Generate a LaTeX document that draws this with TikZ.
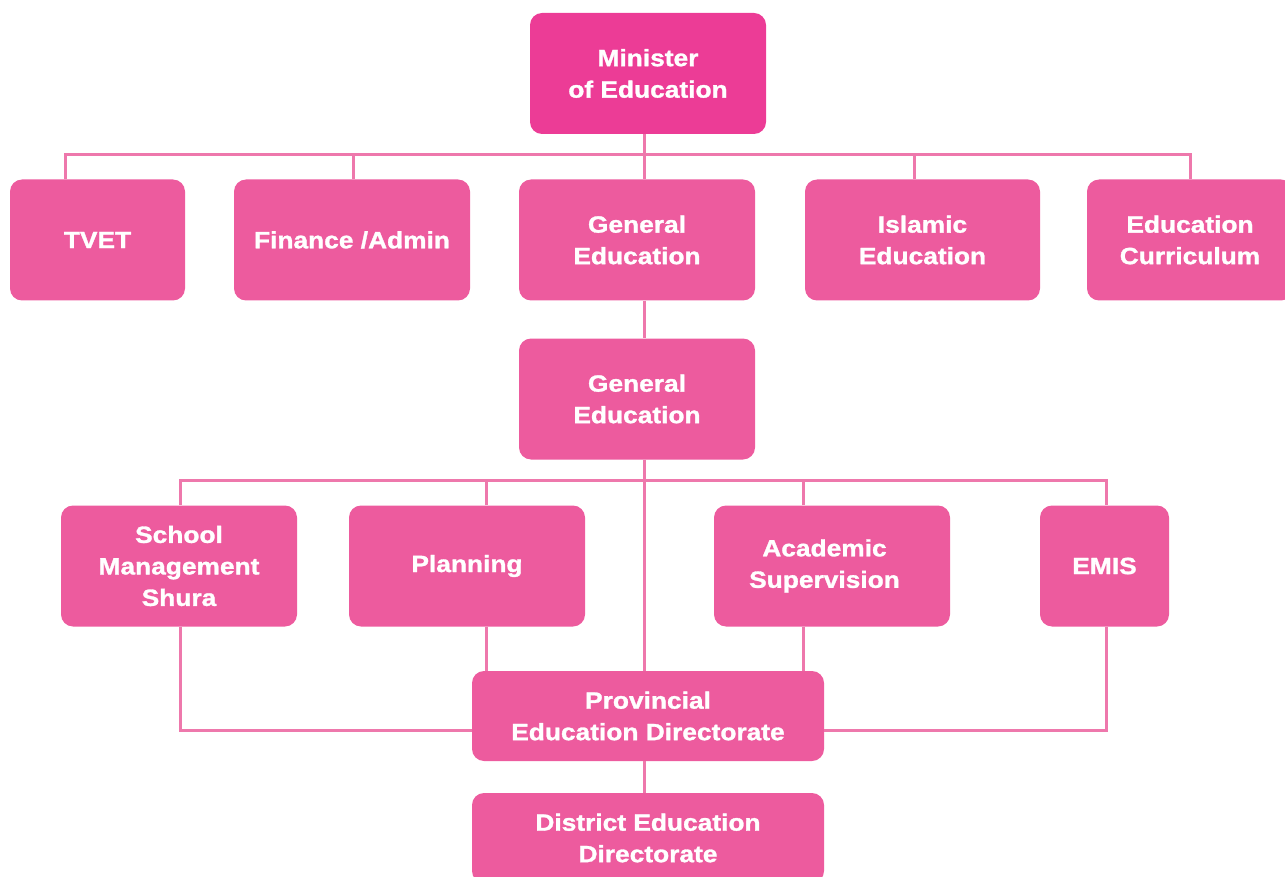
\documentclass[tikz,border=0pt]{standalone}
\usepackage{fontspec}
\setmainfont{Liberation Sans}[BoldFont={* Bold},BoldFeatures={FakeStretch=1.12,FakeBold=1.3}]
\definecolor{boxpink}{RGB}{237,91,158}
\definecolor{toppink}{RGB}{236,60,150}
\definecolor{linepink}{RGB}{238,120,172}
\tikzset{
  boxtext/.style={text=white, align=center,
    font=\fontsize{23.5}{31.5}\selectfont\bfseries},
  orgbox/.style={rectangle, rounded corners=12pt, fill=boxpink, boxtext,
    inner sep=0pt, minimum height=121pt},
  topbox/.style={orgbox, fill=toppink},
  conn/.style={draw=linepink, line width=3pt},
}
\begin{document}
\begin{tikzpicture}[x=1pt,y=-1pt]
\path[use as bounding box] (0,0) rectangle (1285,877);
\clip (0,0) rectangle (1285,877);
\coordinate (h1) at (0,155);
\coordinate (h2) at (0,480);
\node[topbox, minimum width=236pt] (min) at (648,73.5) {Minister\\of Education};
\node[orgbox, minimum width=175pt] (tvet) at (97.5,240) {TVET};
\node[orgbox, minimum width=236pt] (fin) at (352,240) {Finance /Admin};
\node[orgbox, minimum width=236pt] (gen1) at (637,240) {General\\Education};
\node[orgbox, minimum width=235pt] (isl) at (922.5,240) {Islamic\\Education};
\node[orgbox, minimum width=206pt] (curr) at (1190,240) {Education\\Curriculum};
\node[orgbox, minimum width=236pt] (gen2) at (637,399) {General\\Education};
\node[orgbox, minimum width=236pt] (school) at (179,566) {School\\Management\\Shura};
\node[orgbox, minimum width=236pt] (plan) at (467,566) {Planning};
\node[orgbox, minimum width=236pt,
  label={[boxtext, xshift=-7.5pt]center:Academic\\Supervision}] (acad) at (832,566) {};
\node[orgbox, minimum width=129pt] (emis) at (1104.5,566) {EMIS};
\node[orgbox, minimum width=352pt, minimum height=90pt] (prov) at (648,716) {Provincial\\Education Directorate};
\node[orgbox, minimum width=352pt, minimum height=90pt] (dist) at (648,838) {District Education\\Directorate};
% top level
\draw[conn] ([xshift=-4pt]min.south) -- ([xshift=7pt]gen1.north);
\draw[conn] ([xshift=-32.5pt]tvet.north) |- (curr.north |- h1) -- (curr.north);
\draw[conn] ([xshift=1pt]fin.north) -- ([xshift=1pt]fin.north |- h1);
\draw[conn] ([xshift=-8.5pt]isl.north) -- ([xshift=-8.5pt]isl.north |- h1);
% general education chain
\draw[conn] ([xshift=7pt]gen1.south) -- ([xshift=7pt]gen2.north);
\draw[conn] ([xshift=7pt]gen2.south) -- ([xshift=-4pt]prov.north);
% second bar
\draw[conn] ([xshift=1pt]school.north) |- ([xshift=1.5pt]emis.north |- h2) -- ([xshift=1.5pt]emis.north);
\draw[conn] ([xshift=19pt]plan.north) -- ([xshift=19pt]plan.north |- h2);
\draw[conn] ([xshift=-29pt]acad.north) -- ([xshift=-29pt]acad.north |- h2);
% to provincial
\draw[conn] ([xshift=1pt]school.south) |- ([yshift=-14pt]prov.west);
\draw[conn] ([xshift=1.5pt]emis.south) |- ([yshift=-14pt]prov.east);
\draw[conn] ([xshift=19pt]plan.south) -- ([xshift=19pt]plan.south |- prov.north);
\draw[conn] ([xshift=-29pt]acad.south) -- ([xshift=-29pt]acad.south |- prov.north);
\draw[conn] ([xshift=-4pt]prov.south) -- ([xshift=-4pt]dist.north);
\end{tikzpicture}
\end{document}
